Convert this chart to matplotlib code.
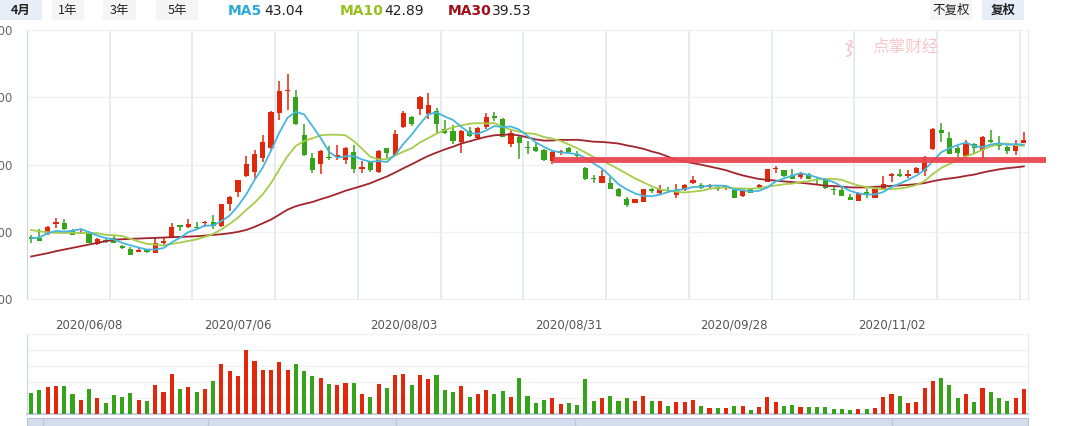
import numpy as np
import pandas as pd
import matplotlib
matplotlib.use("Agg")
import matplotlib.pyplot as plt
from matplotlib.patches import Rectangle

plt.rcParams['font.family'] = ['DejaVu Sans', 'Noto Sans CJK SC']

# daily OHLC, 2020/05/28 .. 2020/11/24
opens = [29.14, 29.14, 29.63, 31.16, 31.36, 30.27, 29.78, 30.02, 28.25, 28.64,
         29.04, 27.85, 27.41, 27.01, 27.26, 26.86, 28.35, 29.09, 30.86, 30.72,
         30.77, 31.26, 31.51, 30.86, 34.12, 35.90, 38.27, 38.86, 40.94, 42.47,
         47.65, 50.86, 50.07, 44.44, 41.04, 40.05, 41.14, 41.14, 40.64, 41.88,
         39.36, 40.30, 38.86, 42.47, 41.48, 45.53, 47.06, 48.20, 47.46, 48.00,
         45.28, 45.04, 43.31, 45.04, 43.90, 45.53, 47.16, 46.81, 43.06, 44.15,
         42.62, 42.67, 42.22, 40.49, 41.73, 42.47, 41.48, 39.51, 37.93, 37.23,
         37.19, 36.40, 34.81, 34.27, 34.42, 36.30, 35.70, 36.20, 35.51, 36.15,
         37.23, 36.99, 36.64, 36.59, 36.59, 36.15, 35.31, 36.30, 36.59, 37.43,
         39.26, 39.11, 38.42, 38.17, 38.52, 37.78, 37.78, 36.30, 36.20, 35.16,
         34.57, 35.85, 35.01, 36.40, 38.27, 38.62, 38.27, 38.72, 39.01, 42.37,
         45.19, 44.00, 42.52, 41.23, 43.06, 42.22, 43.56, 42.86, 42.67, 41.98,
         43.26]
closes = [28.99, 28.64, 30.72, 31.41, 30.37, 29.53, 29.98, 28.40, 28.89, 28.54,
          28.40, 27.51, 26.57, 27.26, 27.01, 28.40, 28.64, 30.77, 30.77, 31.11,
          30.52, 31.41, 30.86, 34.07, 35.16, 37.63, 40.00, 41.58, 43.41, 47.75,
          50.96, 51.11, 45.98, 41.38, 39.16, 42.07, 40.94, 41.48, 42.47, 39.31,
          39.56, 39.16, 42.07, 41.78, 44.59, 47.70, 46.07, 50.07, 48.89, 45.98,
          44.69, 43.46, 44.94, 44.25, 45.48, 47.11, 46.86, 44.10, 44.69, 43.16,
          42.47, 42.07, 40.64, 41.83, 42.07, 41.83, 41.33, 37.78, 37.78, 38.22,
          36.30, 35.26, 33.93, 34.81, 36.30, 36.10, 36.40, 36.00, 36.20, 36.99,
          37.68, 36.49, 36.89, 36.30, 36.74, 35.01, 36.00, 35.80, 36.89, 39.26,
          39.41, 38.27, 37.88, 38.72, 37.88, 37.68, 36.54, 36.15, 35.31, 34.72,
          35.80, 35.65, 36.30, 37.04, 38.52, 38.27, 38.52, 39.41, 41.14, 45.33,
          44.64, 41.63, 41.73, 43.11, 42.42, 44.15, 43.41, 42.72, 41.98, 42.91,
          43.70]
highs = [29.48, 30.37, 30.86, 32.00, 31.85, 30.47, 30.37, 30.17, 29.14, 29.04,
         29.48, 28.10, 27.80, 27.56, 27.41, 29.04, 29.23, 31.26, 31.01, 31.85,
         31.51, 31.56, 32.44, 34.17, 35.31, 37.68, 41.33, 42.12, 44.44, 47.90,
         52.44, 53.48, 51.11, 46.07, 41.73, 42.22, 42.81, 42.96, 42.57, 42.91,
         40.59, 40.40, 42.22, 42.52, 45.19, 48.00, 47.26, 50.12, 50.67, 48.40,
         46.67, 45.88, 45.09, 45.53, 45.58, 47.65, 47.75, 46.91, 45.28, 44.30,
         43.46, 43.36, 42.32, 42.22, 42.22, 42.67, 41.98, 39.60, 38.42, 39.11,
         38.17, 36.54, 35.11, 34.91, 36.35, 36.54, 36.94, 36.69, 37.04, 37.04,
         38.32, 37.28, 37.14, 36.89, 36.89, 36.30, 36.15, 36.40, 37.14, 39.31,
         39.85, 39.16, 39.36, 38.86, 38.72, 37.98, 37.93, 36.69, 36.64, 35.65,
         35.85, 36.30, 36.40, 38.22, 38.81, 39.36, 39.21, 39.65, 41.23, 45.38,
         46.22, 44.89, 42.72, 43.60, 43.26, 44.20, 45.19, 44.30, 42.72, 43.70,
         44.89]
lows = [28.35, 28.59, 29.53, 30.57, 30.27, 29.48, 29.68, 28.30, 28.05, 28.40,
        28.30, 27.46, 26.52, 26.96, 26.77, 26.81, 28.10, 29.04, 30.12, 30.62,
        30.47, 30.77, 30.47, 30.72, 33.09, 35.16, 38.12, 37.88, 40.35, 41.98,
        46.67, 48.05, 45.93, 41.33, 38.72, 38.52, 40.74, 40.64, 40.05, 38.72,
        38.72, 38.91, 38.81, 40.99, 41.43, 45.48, 45.78, 47.41, 46.81, 44.59,
        44.49, 43.11, 41.68, 44.15, 43.70, 45.33, 46.47, 44.05, 42.62, 40.89,
        41.63, 41.93, 40.49, 40.10, 41.48, 41.73, 40.84, 37.63, 37.28, 37.19,
        36.30, 35.16, 33.68, 34.22, 34.37, 35.80, 35.41, 35.70, 35.01, 36.05,
        37.14, 36.40, 36.30, 36.10, 36.20, 34.96, 35.16, 35.70, 36.49, 37.38,
        38.67, 38.17, 37.78, 37.88, 37.78, 37.14, 36.40, 35.46, 35.26, 34.67,
        34.52, 34.96, 34.96, 36.30, 37.38, 38.12, 37.98, 38.67, 38.27, 42.22,
        43.41, 41.58, 41.09, 41.14, 41.78, 40.84, 43.26, 42.22, 41.63, 41.48,
        43.21]
volumes = [60, 69, 78, 81, 81, 57, 42, 72, 45, 33,
           54, 48, 60, 42, 39, 84, 63, 117, 72, 78,
           63, 72, 96, 144, 126, 111, 186, 153, 129, 129,
           150, 129, 144, 126, 111, 105, 87, 84, 90, 90,
           57, 48, 87, 75, 114, 117, 84, 114, 102, 114,
           69, 63, 81, 48, 57, 69, 57, 66, 48, 105,
           51, 33, 42, 45, 30, 33, 27, 102, 39, 45,
           51, 39, 45, 39, 51, 39, 39, 24, 36, 36,
           42, 24, 18, 18, 18, 24, 24, 12, 21, 48,
           36, 24, 27, 21, 21, 21, 21, 15, 15, 12,
           15, 15, 18, 48, 57, 51, 33, 36, 75, 96,
           105, 84, 45, 57, 36, 75, 63, 45, 39, 45,
           72]

# moving averages before enough days are on screen
ma5_head = [29.04, 29.14, 29.78, 30.12]
ma10_head = [30.27, 30.07, 29.93, 29.83, 29.83, 29.83, 29.83, 29.83, 29.78]
ma30_head = [26.32, 26.57, 26.81, 27.11, 27.36, 27.60, 27.85, 28.10, 28.35, 28.59,
             28.79, 28.89, 28.94, 28.99, 29.04, 29.09, 29.14, 29.19, 29.23, 29.28,
             29.33, 29.43, 29.53, 29.63, 29.78, 29.98, 30.27, 30.72, 31.26]

date_labels = ["2020/06/08", "2020/07/06", "2020/08/03", "2020/08/31", "2020/09/28", "2020/11/02"]
date_idx = [7, 25, 45, 65, 85, 104]

price_ticks = [20, 30, 40, 50, 60]

support_level = 40.6
support_from = 63.1
support_to = 122.7

n = len(closes)
assert len(opens) == n and len(highs) == n and len(lows) == n and len(volumes) == n

UP = '#e1280c'
DOWN = '#35a41b'
C_MA5 = '#45b6dc'
C_MA10 = '#a6cc4c'
C_MA30 = '#a3242c'

W, H = 1080, 426
fig = plt.figure(figsize=(W / 100, H / 100), dpi=100)
fig.patch.set_facecolor('white')


def px_axes(x0, y0, x1, y1):
    return fig.add_axes([x0 / W, 1 - y1 / H, (x1 - x0) / W, (y1 - y0) / H])


def px_rect(x0, y0, x1, y1, color):
    fig.add_artist(Rectangle((x0 / W, 1 - y1 / H), (x1 - x0) / W, (y1 - y0) / H,
                             transform=fig.transFigure, color=color, lw=0, zorder=0))


def ma(values, window, head):
    m = pd.Series(values).rolling(window).mean().to_numpy()
    m[:len(head)] = head
    return m


x = np.arange(n)
o = np.array(opens)
c = np.array(closes)
hi = np.array(highs)
lo = np.array(lows)
up = c >= o
colors = np.where(up, UP, DOWN)

# ---- price panel
ax = px_axes(27, 30, 1028, 299)
ax.set_xlim(-0.5, n - 0.5)
ax.set_ylim(price_ticks[0], price_ticks[-1])
for v in price_ticks[1:-1]:
    ax.axhline(v, color='#f1f1f1', lw=1, zorder=0)
for k in range(1, 13):
    ax.axvline(-0.5 + 10 * k, color='#e4e9f1', lw=1.3, zorder=0)

ax.vlines(x, lo, hi, colors=colors, lw=1.1, zorder=2)
body_h = np.maximum(np.abs(c - o), 0.16)
ax.bar(x, body_h, bottom=np.minimum(o, c), width=0.62, color=colors, lw=0, zorder=3)

ax.plot(x, ma(closes, 30, ma30_head), color=C_MA30, lw=1.3, zorder=4)
ax.plot(x, ma(closes, 10, ma10_head), color=C_MA10, lw=1.3, zorder=4)
ax.plot(x, ma(closes, 5, ma5_head), color=C_MA5, lw=1.3, zorder=4)

ax.plot([support_from, support_to], [support_level, support_level], color='#e8464f',
        lw=4.2, solid_capstyle='butt', clip_on=False, zorder=6, alpha=0.95)

ax.set_yticks(price_ticks)
ax.set_yticklabels(["%.2f" % v for v in price_ticks])
ax.tick_params(axis='y', length=0, pad=10.3, labelsize=8.5, labelcolor='#666666')
ax.set_xticks([])
for i, lab in zip(date_idx, date_labels):
    ax.text(i, -26 / 269, lab, transform=ax.get_xaxis_transform(), ha='center', va='center',
            fontsize=8.5, color='#555555')
ax.spines['left'].set_color('#c9d3e3')
ax.spines['right'].set_color('#e4e9f1')
ax.spines['top'].set_color('#f1f1f1')
ax.spines['bottom'].set_color('#f1f1f1')

# watermark
fig.text(872 / W, 1 - 47 / H, "点掌财经", fontsize=12, color='#f6c6ca', ha='left', va='center',
         family=['Noto Sans CJK SC'])
fig.text(850 / W, 1 - 47 / H, "ჯ", fontsize=15, color='#f6c6ca', ha='center', va='center')

# ---- volume panel
av = px_axes(27, 334, 1028, 414)
av.set_xlim(-0.5, n - 0.5)
av.set_ylim(0, 232)
av.bar(x, volumes, width=0.5, color=colors, lw=0, zorder=3)
for v in [46, 93, 139, 186]:
    av.axhline(v, color='#f3f3f3', lw=1, zorder=0)
av.set_xticks([])
av.set_yticks([])
av.spines['left'].set_color('#c9d3e3')
av.spines['bottom'].set_color('#bccbe4')
av.spines['bottom'].set_linewidth(1.3)
av.spines['right'].set_color('#e4e9f1')
av.spines['top'].set_color('#f1f1f1')

# ---- navigator strip
an = px_axes(27, 418, 1028, 426)
an.set_facecolor('#d6deee')
an.set_xlim(27, 1028)
an.set_ylim(0, 1)
for xp in [43, 208, 396, 575, 892]:
    an.axvline(xp, color='#bcc6dc', lw=1)
an.set_xticks([])
an.set_yticks([])
for s in an.spines.values():
    s.set_color('#b8c3da')

# ---- top bar
for x0, x1, lab, active in [(0, 42, "4月", True), (52, 84, "1年", False),
                            (103, 136, "3年", False), (156, 198, "5年", False),
                            (930, 972, "不复权", False), (982, 1024, "复权", True)]:
    px_rect(x0, 0, x1, 20, '#e7eef8' if active else '#f5f5f5')
    fig.text((x0 + x1) / 2 / W, 1 - 10.5 / H, lab, ha='center', va='center', fontsize=9,
             color='#222222', weight='bold' if active else 'normal',
             family=['Noto Sans CJK SC', 'DejaVu Sans'])

for xl, xv, name, val, col in [(228, 264, "MA5", 43.04, '#2ea9d6'),
                               (340, 384, "MA10", 42.89, '#97c11f'),
                               (448, 492, "MA30", 39.53, '#a0101c')]:
    fig.text(xl / W, 1 - 11 / H, name, ha='left', va='center', fontsize=10, color=col, weight='bold')
    fig.text(xv / W, 1 - 11 / H, "%.2f" % val, ha='left', va='center', fontsize=10, color='#222222')

fig.savefig("out.png", dpi=100)
